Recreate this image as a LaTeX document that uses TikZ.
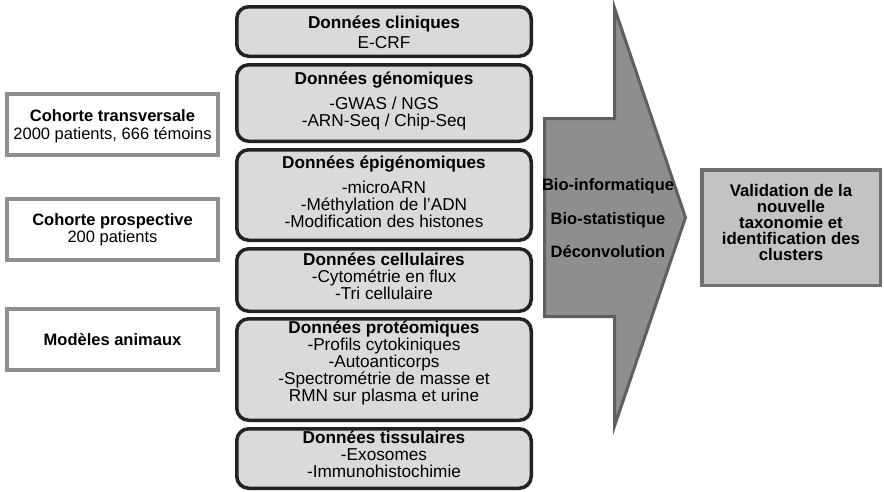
\documentclass[tikz,border=0pt]{standalone}
\usepackage{fontspec}
\setmainfont{Liberation Sans}
\definecolor{midfill}{HTML}{DADADA}
\definecolor{midline}{HTML}{222222}
\definecolor{leftline}{HTML}{8F8F8F}
\definecolor{arrfill}{HTML}{8E8E8E}
\definecolor{arrline}{HTML}{5F5F5F}
\definecolor{rfill}{HTML}{C3C3C3}
\definecolor{rline}{HTML}{6F6F6F}
\begin{document}
\begin{tikzpicture}[x=1pt,y=-1pt,
  midbox/.style={draw=midline, fill=midfill, line width=3.5pt, rounded corners=12pt, minimum width=294.5pt, inner sep=0pt},
  leftbox/.style={draw=leftline, fill=white, line width=4pt, minimum width=211pt, minimum height=61pt, inner sep=0pt},
  rbox/.style={draw=rline, fill=rfill, line width=3.5pt, minimum width=178.5pt, minimum height=115.5pt, inner sep=0pt},
  txt/.style={align=center, font=\fontsize{16.5}{17}\selectfont, inner sep=0pt},
  mtxt/.style={align=center, font=\fontsize{17.2}{17}\selectfont, inner sep=0pt},
  rtxt/.style={align=center, font=\fontsize{16.8}{16}\selectfont\bfseries, inner sep=0pt}]
\useasboundingbox (0,0) rectangle (884,491);

% left boxes
\node[leftbox] (l1) at (112.5,124.5) {};
\node[leftbox] (l2) at (112.5,229.5) {};
\node[leftbox] (l3) at (112.5,339.5) {};
\node[txt] (l1t) at (112.5,126) {\textbf{Cohorte transversale}\\[1pt]2000 patients, 666 témoins};
\node[txt] (l2t) at (112.5,230) {\textbf{Cohorte prospective}\\200 patients};
\node[txt] (l3t) at (112.5,340) {\textbf{Modèles animaux}};

% middle boxes
\node[midbox, minimum height=49.5pt] (b1) at (384,31.5) {};
\node[midbox, minimum height=76.5pt] (b2) at (384,103) {};
\node[midbox, minimum height=90.5pt] (b3) at (384,195) {};
\node[midbox, minimum height=62.5pt] (b4) at (384,280) {};
\node[midbox, minimum height=101.5pt] (b5) at (384,369.5) {};
\node[midbox, minimum height=59.5pt] (b6) at (384,458.5) {};

\node[mtxt] (b1t) at (384,32) {\textbf{Données cliniques}\\[3pt]E-CRF};
\node[mtxt] (b2t) at (384,101) {\textbf{Données génomiques}\\[8pt]-GWAS / NGS\\-ARN-Seq / Chip-Seq};
\node[mtxt] (b3t) at (384,191.5) {\textbf{Données épigénomiques}\\[8pt]-microARN\\-Méthylation de l’ADN\\-Modification des histones};
\node[mtxt] (b4t) at (384,276.5) {\textbf{Données cellulaires}\\-Cytométrie en flux\\-Tri cellulaire};
\node[mtxt] (b5t) at (384,362.5) {\textbf{Données protéomiques}\\-Profils cytokiniques\\-Autoanticorps\\-Spectrométrie de masse et\\RMN sur plasma et urine};
\node[mtxt] (b6t) at (384,454.5) {\textbf{Données tissulaires}\\-Exosomes\\-Immunohistochimie};

% big arrow
\draw[draw=arrline, fill=arrfill, line width=3pt, line join=miter]
  (544.5,118.5) -- (614.5,118.5) -- (614.5,8) -- (685.5,217.5) -- (614.5,426) -- (614.5,316.5) -- (544.5,316.5) -- cycle;
\node[txt, font=\fontsize{16.5}{17}\selectfont\bfseries] (at) at (608,218.5) {Bio-informatique\\[16.5pt]Bio-statistique\\[16.5pt]Déconvolution};

% right box
\node[rbox] (r) at (791,227.5) {};
\node[rtxt] (rt) at (791,222.5) {Validation de la\\nouvelle\\taxonomie et\\identification des\\clusters};
\end{tikzpicture}
\end{document}
